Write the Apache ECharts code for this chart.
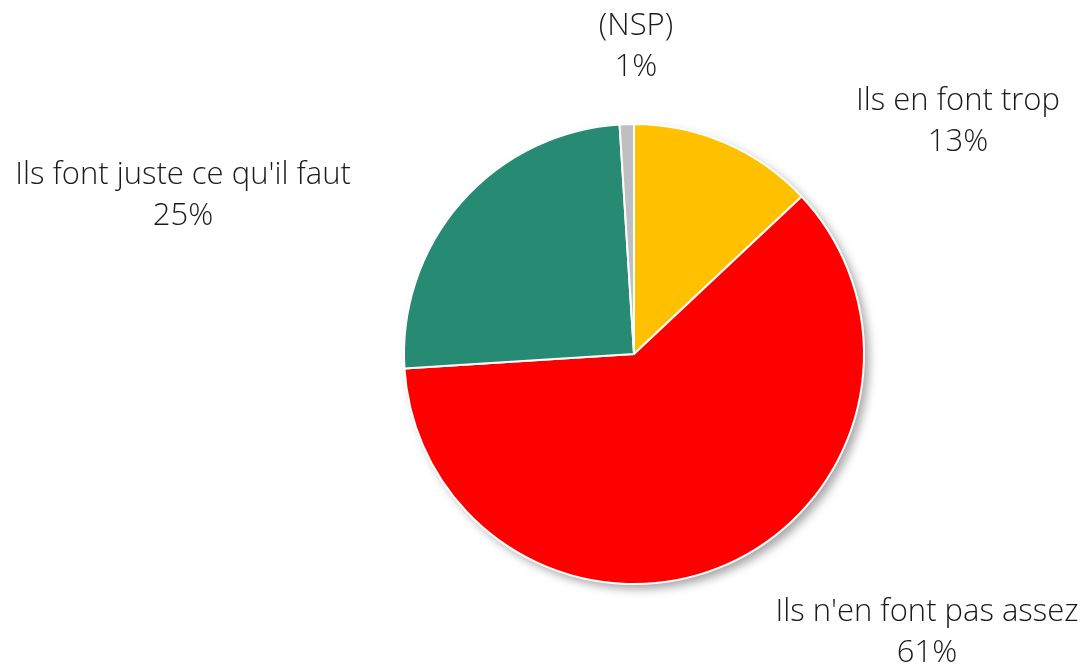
<!DOCTYPE html>
<html>
<head>
<meta charset="utf-8">
<script src="https://cdn.jsdelivr.net/npm/echarts@6/dist/echarts.min.js"></script>
<style>
  html, body { margin: 0; padding: 0; background: #fff; }
  #chart { width: 1083px; height: 670px; }
</style>
</head>
<body>
<div id="chart"></div>
<script>
const categories = ['Ils en font trop', "Ils n'en font pas assez", "Ils font juste ce qu'il faut", '(NSP)'];
const values = [13, 61, 25, 1];
const colors = ['#FFC000', '#FF0000', '#278A73', '#BFBFBF'];

// where each label sits (centre of the two lines)
const labelSpots = [[958, 122], [927, 633], [183, 196], [636, 47]];

const chart = echarts.init(document.getElementById('chart'));
const total = values.reduce((a, b) => a + b, 0);

chart.setOption({
    animation: false,
    series: [
        {
            // backdrop disk that carries the drop shadow
            type: 'pie',
            silent: true,
            z: 1,
            center: [634, 354],
            radius: 230,
            label: { show: false },
            labelLine: { show: false },
            itemStyle: {
                color: '#fff',
                shadowColor: 'rgba(0,0,0,0.35)',
                shadowBlur: 10,
                shadowOffsetX: 5,
                shadowOffsetY: 5
            },
            data: [{ value: total, name: '' }]
        },
        {
            type: 'pie',
            z: 2,
            center: [634, 354],
            radius: 230,
            startAngle: 90,
            clockwise: true,
            itemStyle: { borderColor: '#fff', borderWidth: 2 },
            label: {
                show: true,
                position: 'outside',
                formatter: '{b}\n{d}%',
                fontFamily: 'Open Sans',
                fontWeight: 300,
                fontSize: 31,
                lineHeight: 41,
                color: '#1a1a1a',
                align: 'center'
            },
            labelLine: { show: false },
            labelLayout: function (params) {
                const p = labelSpots[params.dataIndex];
                return { x: p[0], y: p[1], align: 'center', verticalAlign: 'middle' };
            },
            emphasis: { disabled: true },
            data: categories.map((name, i) => ({
                name: name,
                value: values[i],
                itemStyle: { color: colors[i] }
            }))
        }
    ]
});
</script>
</body>
</html>
